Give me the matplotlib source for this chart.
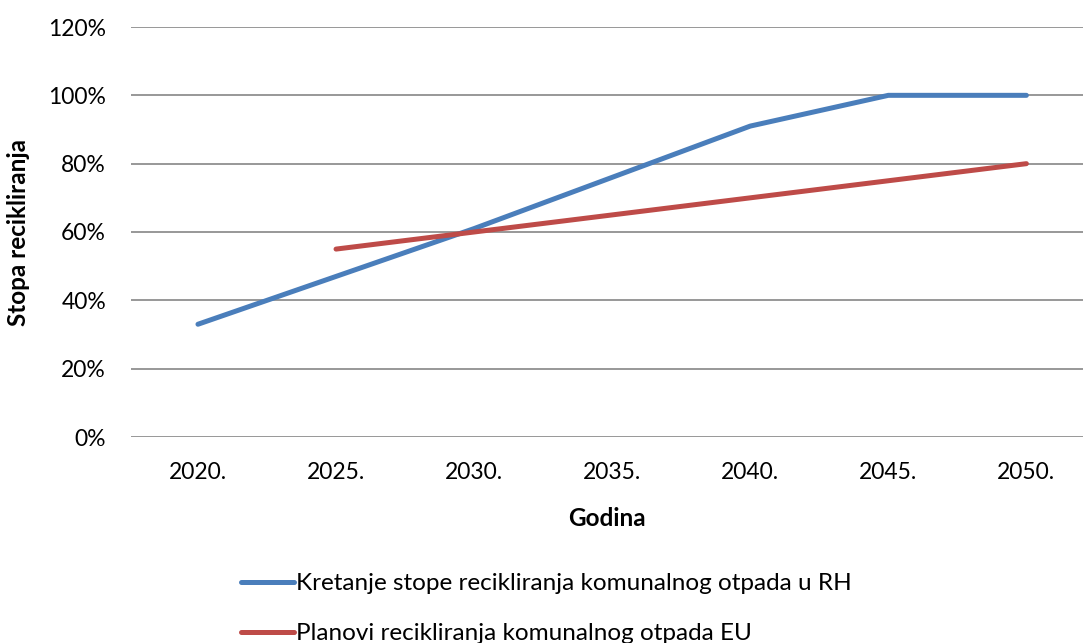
import matplotlib
matplotlib.use("Agg")
import matplotlib.pyplot as plt
from matplotlib.ticker import FuncFormatter

years = ["2020.", "2025.", "2030.", "2035.", "2040.", "2045.", "2050."]
rh_values = [33, 47, 61, 76, 91, 100, 100]
eu_values = [None, 55, 60, 65, 70, 75, 80]
rh_label = "Kretanje stope recikliranja komunalnog otpada u RH"
eu_label = "Planovi recikliranja komunalnog otpada EU"
y_ticks = [0, 20, 40, 60, 80, 100, 120]

plt.rcParams['font.family'] = ['Lato', 'DejaVu Sans']

W, H = 1084, 643
fig = plt.figure(figsize=(W / 100, H / 100), dpi=100)
ax = fig.add_axes([131 / W, (H - 437) / H, (1083 - 131) / W, (437 - 27) / H])

x = list(range(len(years)))
eu_x = [i for i, v in zip(x, eu_values) if v is not None]
eu_y = [v for v in eu_values if v is not None]

l1, = ax.plot(x, rh_values, color="#4A7EBB", lw=3.6, solid_capstyle="round", solid_joinstyle="round", zorder=3)
l2, = ax.plot(eu_x, eu_y, color="#BE4B48", lw=3.6, solid_capstyle="round", solid_joinstyle="round", zorder=3)

ax.set_xlim(-0.485, 6.41)
ax.set_ylim(0, 120)
ax.set_yticks(y_ticks)
ax.yaxis.set_major_formatter(FuncFormatter(lambda v, p: f"{int(v)}%"))
ax.set_xticks(x)
ax.set_xticklabels(years)
ax.grid(axis="y", color="#868686", lw=1.2)
ax.set_axisbelow(True)
for s in ax.spines.values():
    s.set_visible(False)
ax.tick_params(axis="both", length=0, labelsize=16.5, colors="black")
ax.tick_params(axis="y", pad=18)
ax.tick_params(axis="x", pad=18)

ax.set_ylabel("Stopa recikliranja", fontsize=17.5, fontweight="bold", labelpad=13)
ax.set_xlabel("Godina", fontsize=17.5, fontweight="bold", labelpad=17)

leg = fig.legend([l1, l2], [rh_label, eu_label], loc="upper left",
                 bbox_to_anchor=(241 / W, (H - 573) / H), frameon=False,
                 fontsize=17.5, handlelength=2.2, handletextpad=0.08, labelspacing=1.2,
                 borderaxespad=0, borderpad=0)
for line in leg.get_lines():
    line.set_linewidth(3.6)

fig.savefig("out.png", dpi=100)
